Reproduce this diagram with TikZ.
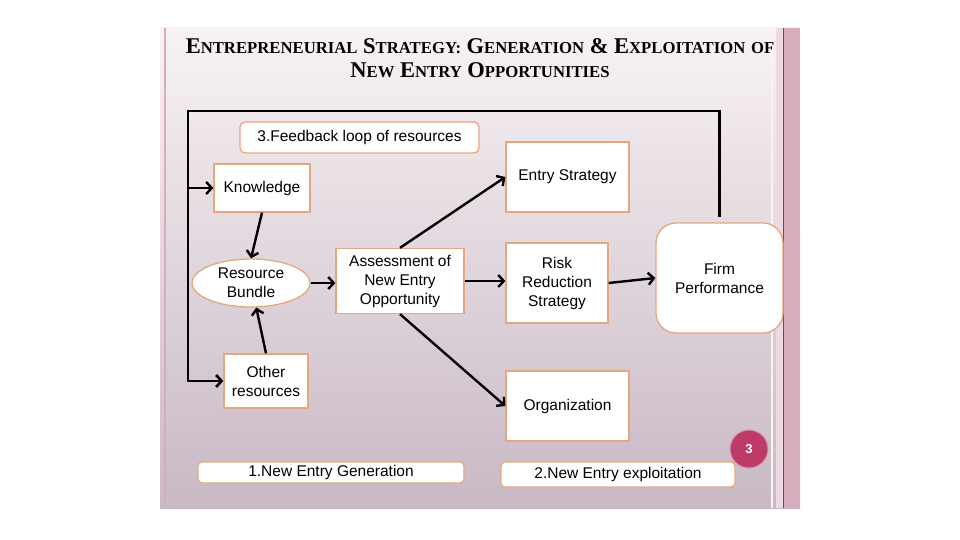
\documentclass[tikz,border=0pt]{standalone}
\usepackage{fontspec}
\setmainfont{Liberation Sans}
\newfontfamily\titlefont{Liberation Serif}
\usetikzlibrary{positioning,arrows.meta,shapes.geometric}
\definecolor{cpeach}{RGB}{228,168,128}
\definecolor{cbadge}{RGB}{190,58,104}
\definecolor{ctop}{RGB}{248,242,245}
\definecolor{cbottom}{RGB}{200,185,196}
\definecolor{cstripe}{RGB}{216,172,188}
\definecolor{cline}{RGB}{165,45,85}
\newcommand{\tsc}[2]{{\fontsize{22.5}{24}\selectfont #1}{\fontsize{16.7}{18}\selectfont #2}}

\begin{document}
\begin{tikzpicture}[x=1pt,y=-1pt,font=\fontsize{15.5}{19}\selectfont,
  box/.style={draw=cpeach,line width=1.3pt,fill=white,align=center,inner sep=2pt},
  tag/.style={box,rounded corners=5pt},
  flow/.style={-{Straight Barb[length=5.5pt,width=12pt]},line width=2.4pt},
  loopline/.style={line width=2.6pt},
  titletext/.style={anchor=base,font=\titlefont\bfseries\fontsize{22.5}{24}\selectfont},
]
\useasboundingbox (0,0) rectangle (960,540);
% slide
\fill[top color=ctop,bottom color=cbottom] (160,28) rectangle (800,508);
\fill[cstripe!45!white] (776,28) rectangle (783,508);
\fill[cstripe] (783,28) rectangle (800,508);
\draw[white!85!cstripe,line width=2pt] (772,28) -- (772,508);
\draw[cline,line width=0.8pt] (783,28) -- (783,508);
\draw[cstripe,line width=1.5pt] (165,28) -- (165,508);

\node[titletext] (title1) at (480,54)
  {\tsc{E}{NTREPRENEURIAL} \tsc{S}{TRATEGY:} \tsc{G}{ENERATION} \tsc{\&}{} \tsc{E}{XPLOITATION} \tsc{}{OF}};
\node[titletext] (title2) at (480,78)
  {\tsc{N}{EW} \tsc{E}{NTRY} \tsc{O}{PPORTUNITIES}};

\node[tag,minimum width=239pt,minimum height=31pt] (feedback) at (359.5,137.5) {3.Feedback loop of resources};
\node[box,minimum width=96pt,minimum height=48pt] (know) at (262,188) {Knowledge};
\node[box,ellipse,inner sep=0pt,minimum width=118pt,minimum height=48pt] (bundle) at (251,283) {Resource\\Bundle};
\node[box,minimum width=84pt,minimum height=54pt] (other) at (266,381) {Other\\resources};
\node[box,minimum width=128pt,minimum height=65pt] (assess) at (400,281) {Assessment of\\New Entry\\Opportunity};
\node[box,minimum width=123pt,minimum height=70pt] (entry) at (567.5,177) {Entry Strategy};
\node[box,minimum width=102pt,minimum height=80pt] (risk) at (557,283) {Risk\\Reduction\\Strategy};
\node[box,minimum width=123pt,minimum height=70pt] (org) at (567.5,406) {Organization};
\node[box,rounded corners=20pt,minimum width=127pt,minimum height=110pt] (firm) at (719.5,278) {Firm\\Performance};
\node[tag,rounded corners=4pt,minimum width=266pt,minimum height=21pt] (gen) at (331,472.5) {1.New Entry Generation};
\node[tag,rounded corners=4pt,minimum width=234pt,minimum height=25pt] (expl) at (618,474.5) {2.New Entry exploitation};
\node[circle,fill=cbadge,draw=cbadge!55!white,line width=1pt,minimum size=38pt,inner sep=0pt,
  text=white,font=\fontsize{13}{14}\selectfont\bfseries] (badge) at (749,449) {3};

% feedback loop
\coordinate (corner) at (188,111);
\draw[loopline,shorten <=5pt,-{Straight Barb[length=5.5pt,width=12pt]}] (firm.north) |- (corner) |- (other.west);
\draw[flow] (know.west -| corner) -- (know.west);

\draw[flow] (know.south) -- (bundle.north);
\draw[flow] (other.north) -- (bundle.-78);
\draw[flow] (bundle.east) -- (bundle.east -| assess.west);
\draw[flow] (assess.north) -- (entry.west);
\draw[flow] (assess.east) -- (assess.east -| risk.west);
\draw[flow] (assess.south) -- (org.west);
\draw[flow] (risk.east) -- (firm.west);
\end{tikzpicture}
\end{document}
